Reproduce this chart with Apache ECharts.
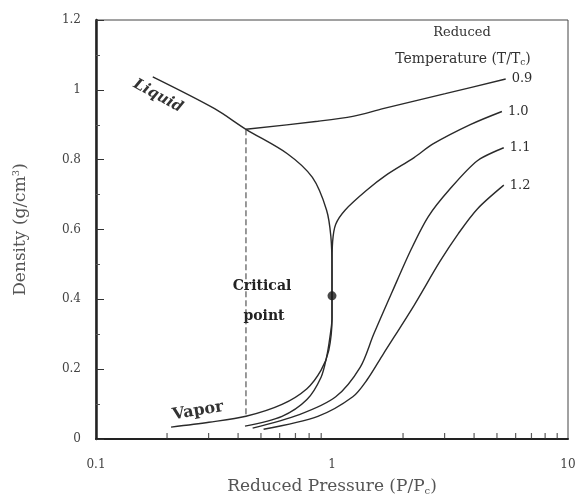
<!DOCTYPE html>
<html><head><meta charset="utf-8">
<script src="https://cdn.jsdelivr.net/npm/echarts@6/dist/echarts.min.js"></script>
<style>html,body{margin:0;padding:0;background:#fff}#c{width:581px;height:501px}</style>
</head><body><div id="c"></div>
<script>
// Reduced pressure (P/Pc) and density (g/cm3) readings
const liquidP = [0.174, 0.318, 0.432, 0.647, 0.826, 0.948, 0.989, 1.0, 1.0];
const liquidD = [1.037, 0.946, 0.887, 0.817, 0.749, 0.656, 0.580, 0.487, 0.410];
const vaporP = [1.0, 1.0, 0.969, 0.899, 0.783, 0.614, 0.432, 0.301, 0.208];
const vaporD = [0.410, 0.346, 0.254, 0.197, 0.144, 0.099, 0.065, 0.048, 0.034];
const twoPhaseP = [0.432, 0.432];
const twoPhaseD = [0.887, 0.065];
const iso09P = [0.432, 0.871, 1.225, 1.644, 3.020, 5.445];
const iso09D = [0.887, 0.910, 0.924, 0.946, 0.989, 1.031];
const iso10P = [0.428, 0.614, 0.783, 0.899, 0.948, 0.979, 1.0, 1.0, 1.0, 1.006, 1.037, 1.138, 1.406, 1.690, 2.228, 2.679, 3.873, 5.248];
const iso10D = [0.037, 0.065, 0.113, 0.177, 0.234, 0.290, 0.346, 0.410, 0.487, 0.565, 0.615, 0.656, 0.713, 0.755, 0.806, 0.845, 0.901, 0.938];
const iso11P = [0.461, 0.727, 1.037, 1.318, 1.500, 1.803, 2.168, 2.559, 3.133, 4.130, 5.346];
const iso11D = [0.031, 0.070, 0.121, 0.206, 0.299, 0.423, 0.544, 0.637, 0.713, 0.797, 0.834];
const iso12P = [0.513, 0.871, 1.225, 1.406, 1.644, 2.228, 2.858, 3.436, 4.130, 5.346];
const iso12D = [0.028, 0.065, 0.121, 0.169, 0.242, 0.383, 0.507, 0.589, 0.659, 0.727];
const criticalP = [1.0];
const criticalD = [0.410];
const isoNames = ['0.9', '1.0', '1.1', '1.2'];
const xMinorTicks = [0.2, 0.3, 0.4, 0.5, 0.6, 0.7, 0.8, 0.9, 2, 3, 4, 5, 6, 7, 8, 9];

const zip = (a, b) => a.map((v, i) => [v, b[i]]);
const FONT = '"DejaVu Serif", "Liberation Serif", serif';
const LINE = '#2a2a2a';
const TXT = '#2e2e2e';

function curve(name, p, d, extra) {
  return Object.assign({
    name: name, type: 'line', data: zip(p, d), showSymbol: false, symbol: 'none',
    smooth: 0.3, lineStyle: { color: LINE, width: 1.4 }, silent: true, clip: false
  }, extra || {});
}
function iso(name, p, d, extra) {
  return curve(name, p, d, Object.assign({
    endLabel: { show: true, formatter: name, distance: 6, color: TXT, fontFamily: FONT, fontSize: 13 }
  }, extra || {}));
}

const chart = echarts.init(document.getElementById('c'), null, { renderer: 'canvas' });
chart.setOption({
  backgroundColor: '#fff',
  animation: false,
  grid: { left: 96, right: 13, top: 20, bottom: 58, show: true, borderColor: '#444', borderWidth: 1 },
  xAxis: {
    type: 'log', logBase: 10, min: 0.1, max: 10,
    name: 'Reduced Pressure (P/P{s|c})', nameLocation: 'middle', nameGap: 38,
    nameTextStyle: { fontFamily: FONT, fontSize: 17, color: '#555',
      rich: { s: { fontFamily: FONT, fontSize: 10, color: '#555', padding: [9, 0, 0, 0] } } },
    axisLine: { show: true, onZero: false, lineStyle: { color: '#222', width: 2 } },
    axisTick: { show: false },
    axisLabel: { fontFamily: FONT, fontSize: 12, color: '#444', margin: 20 },
    splitLine: { show: false }
  },
  yAxis: {
    type: 'value', min: 0, max: 1.2, interval: 0.2,
    name: 'Density (g/cm{p|3})', nameLocation: 'middle', nameGap: 66,
    nameTextStyle: { fontFamily: FONT, fontSize: 17, color: '#555',
      rich: { p: { fontFamily: FONT, fontSize: 10, color: '#555', padding: [0, 0, 9, 0] } } },
    axisLine: { show: true, lineStyle: { color: '#222', width: 2.5 } },
    axisTick: { show: true, inside: true, length: 8, lineStyle: { color: '#333', width: 1 } },
    minorTick: { show: true, splitNumber: 2, length: 4, lineStyle: { color: '#555', width: 1 } },
    axisLabel: { fontFamily: FONT, fontSize: 12, color: '#444', margin: 15 },
    splitLine: { show: false }
  },
  series: [
    curve('Liquid', liquidP, liquidD),
    curve('Vapor', vaporP, vaporD),
    curve('two-phase', twoPhaseP, twoPhaseD, { smooth: false, lineStyle: { color: '#333', width: 1, type: [6, 3] } }),
    iso(isoNames[0], iso09P, iso09D),
    iso(isoNames[1], iso10P, iso10D),
    iso(isoNames[2], iso11P, iso11D),
    iso(isoNames[3], iso12P, iso12D),
    { name: 'Critical point', type: 'scatter', data: zip(criticalP, criticalD), symbol: 'circle',
      symbolSize: 9, itemStyle: { color: '#1a1a1a' }, silent: true, z: 5 },
    { name: 'minor ticks', type: 'scatter', data: xMinorTicks.map(v => [v, 0]), symbol: 'rect',
      symbolSize: [1.2, 6], symbolOffset: [0, -3], itemStyle: { color: '#333' }, silent: true, clip: false, z: 6 }
  ],
  graphic: [
    { type: 'text', x: 158, y: 96, rotation: -0.5, style: { text: 'Liquid', fontFamily: FONT, fontSize: 15,
      fontWeight: 'bold', fontStyle: 'italic', fill: '#333', align: 'center', verticalAlign: 'middle' } },
    { type: 'text', x: 198, y: 411, rotation: 0.17, style: { text: 'Vapor', fontFamily: FONT, fontSize: 16,
      fontWeight: 'bold', fill: '#333', align: 'center', verticalAlign: 'middle' } },
    { type: 'text', x: 262, y: 286, style: { text: 'Critical', fontFamily: FONT, fontSize: 14,
      fontWeight: 'bold', fill: '#222', align: 'center', verticalAlign: 'middle' } },
    { type: 'text', x: 264, y: 316, style: { text: 'point', fontFamily: FONT, fontSize: 14,
      fontWeight: 'bold', fill: '#222', align: 'center', verticalAlign: 'middle' } },
    { type: 'text', x: 462, y: 33, style: { text: 'Reduced', fontFamily: FONT, fontSize: 13,
      fill: '#333', align: 'center', verticalAlign: 'middle' } },
    { type: 'text', x: 463, y: 59, style: { text: 'Temperature (T/T{s|c})', fontFamily: FONT, fontSize: 14,
      fill: '#333', align: 'center', verticalAlign: 'middle',
      rich: { s: { fontFamily: FONT, fontSize: 9, fill: '#333', padding: [8, 0, 0, 0] } } } }
  ]
});
</script>
</body></html>
